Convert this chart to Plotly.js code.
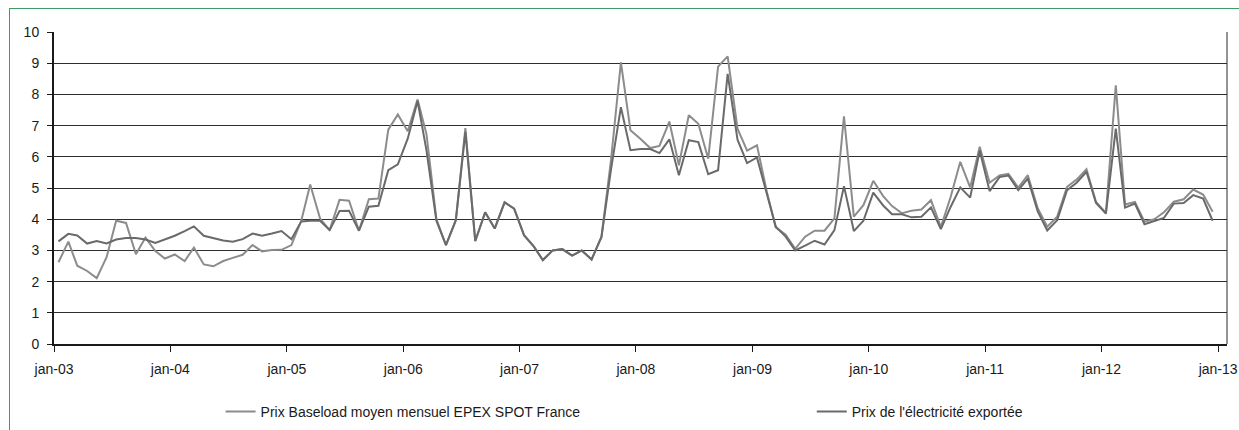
<!DOCTYPE html>
<html>
<head>
<meta charset="utf-8">
<script src="https://cdn.plot.ly/plotly-3.0.1.min.js"></script>
<style>
  html, body { margin: 0; padding: 0; background: #ffffff; }
  #wrap { position: relative; width: 1239px; height: 430px; overflow: hidden; }
  #frame { position: absolute; left: 9px; top: 8px; width: 1240px; height: 430px;
           border-left: 1px solid #3f9a66; border-top: 1px solid #3f9a66; box-sizing: border-box; }
  #chart { position: absolute; left: 0; top: 0; width: 1239px; height: 430px; }
</style>
</head>
<body>
<div id="wrap">
  <div id="chart"></div>
  <div id="frame"></div>
</div>
<script>
// Monthly series, Jan 2003 .. Dec 2012
const startYear = 2003;
const seriesNames = ['Prix Baseload moyen mensuel EPEX SPOT France', "Prix de l'électricité exportée"];

const epexBaseload = [
  2.62, 3.28, 2.51, 2.34, 2.11, 2.78, 3.95, 3.88, 2.88, 3.41, 2.98, 2.74,
  2.87, 2.66, 3.09, 2.55, 2.49, 2.66, 2.76, 2.86, 3.17, 2.97, 3.01, 3.02,
  3.17, 3.95, 5.11, 4.02, 3.65, 4.62, 4.59, 3.63, 4.64, 4.66, 6.87, 7.36,
  6.82, 7.84, 6.72, 4.00, 3.17, 3.97, 6.92, 3.30, 4.22, 3.70, 4.54, 4.34,
  3.49, 3.12, 2.69, 3.00, 3.04, 2.83, 3.00, 2.71, 3.43, 5.90, 9.03, 6.85,
  6.58, 6.28, 6.35, 7.13, 5.73, 7.33, 7.06, 5.94, 8.89, 9.22, 6.90, 6.20,
  6.37, 4.87, 3.74, 3.50, 3.05, 3.44, 3.63, 3.63, 4.03, 7.30, 4.08, 4.45,
  5.23, 4.74, 4.42, 4.19, 4.27, 4.31, 4.61, 3.75, 4.72, 5.84, 5.02, 6.32,
  5.17, 5.40, 5.45, 5.01, 5.41, 4.35, 3.76, 4.08, 5.04, 5.27, 5.60, 4.55,
  4.20, 8.29, 4.47, 4.55, 3.92, 4.00, 4.22, 4.56, 4.64, 4.95, 4.79, 4.24
];

const exportPrice = [
  3.29, 3.53, 3.48, 3.22, 3.30, 3.22, 3.35, 3.40, 3.40, 3.35, 3.24, 3.36,
  3.47, 3.62, 3.77, 3.47, 3.39, 3.32, 3.28, 3.36, 3.54, 3.47, 3.54, 3.62,
  3.36, 3.93, 3.95, 3.95, 3.65, 4.26, 4.27, 3.63, 4.40, 4.43, 5.57, 5.76,
  6.58, 7.79, 6.20, 3.95, 3.17, 3.97, 6.80, 3.30, 4.22, 3.70, 4.54, 4.34,
  3.49, 3.12, 2.69, 3.00, 3.04, 2.83, 3.00, 2.71, 3.43, 5.60, 7.59, 6.21,
  6.25, 6.25, 6.12, 6.56, 5.41, 6.53, 6.47, 5.44, 5.57, 8.66, 6.55, 5.80,
  5.98, 4.85, 3.76, 3.44, 3.00, 3.15, 3.31, 3.19, 3.65, 5.06, 3.62, 3.95,
  4.85, 4.44, 4.16, 4.16, 4.06, 4.08, 4.38, 3.68, 4.40, 5.02, 4.69, 6.20,
  4.90, 5.35, 5.40, 4.93, 5.30, 4.25, 3.64, 3.97, 4.93, 5.17, 5.52, 4.52,
  4.18, 6.90, 4.37, 4.50, 3.84, 3.94, 4.04, 4.50, 4.52, 4.77, 4.66, 3.95
];

const xTickLabels = ['jan-03','jan-04','jan-05','jan-06','jan-07','jan-08','jan-09','jan-10','jan-11','jan-12','jan-13'];
const xTickDates = xTickLabels.map((_, k) => (startYear + k) + '-01-01');

// month dates (mid-month, as the source chart places points)
const months = epexBaseload.map((_, i) => {
  const y = startYear + Math.floor(i / 12);
  const m = (i % 12) + 1;
  return y + '-' + String(m).padStart(2, '0') + '-15';
});

const font = { family: 'Liberation Sans, Arial, sans-serif', size: 14, color: '#1a1a1a' };

const traces = [
  { x: months, y: epexBaseload, name: seriesNames[0], type: 'scatter', mode: 'lines',
    line: { color: '#8c8c8c', width: 2 }, legend: 'legend' },
  { x: months, y: exportPrice, name: seriesNames[1], type: 'scatter', mode: 'lines',
    line: { color: '#6a6a6a', width: 2 }, legend: 'legend2' }
];

const layout = {
  width: 1239, height: 430,
  margin: { l: 54, r: 12, t: 32, b: 86, autoexpand: false },
  paper_bgcolor: 'rgba(0,0,0,0)', plot_bgcolor: '#ffffff',
  font: font,
  showlegend: true,
  legend: { orientation: 'h', x: 0.142, xanchor: 'left', y: -0.218, yanchor: 'middle',
            font: font, bgcolor: 'rgba(0,0,0,0)' },
  legend2: { orientation: 'h', x: 0.646, xanchor: 'left', y: -0.218, yanchor: 'middle',
             font: font, bgcolor: 'rgba(0,0,0,0)' },
  xaxis: {
    type: 'date', range: ['2003-01-01', '2013-01-29'],
    tickvals: xTickDates, ticktext: xTickLabels,
    ticks: 'outside', ticklen: 6, tickwidth: 1, tickcolor: '#1a1a1a',
    ticklabelstandoff: 5,
    showgrid: false, zeroline: false,
    showline: true, linecolor: '#1a1a1a', linewidth: 2,
    tickfont: font, fixedrange: true
  },
  yaxis: {
    range: [0, 10], dtick: 1, tick0: 0,
    ticks: 'outside', ticklen: 5, tickwidth: 1, tickcolor: '#1a1a1a',
    ticklabelstandoff: 5,
    showgrid: true, gridcolor: '#2e2e2e', gridwidth: 1,
    zeroline: false, showline: true, linecolor: '#1a1a1a', linewidth: 2,
    tickfont: font, fixedrange: true
  },
  shapes: [
    { type: 'line', xref: 'paper', yref: 'paper', x0: 1, x1: 1, y0: 0, y1: 1,
      line: { color: '#2a2a2a', width: 1 } }
  ]
};

Plotly.newPlot('chart', traces, layout, { staticPlot: true, displayModeBar: false });
</script>
</body>
</html>
